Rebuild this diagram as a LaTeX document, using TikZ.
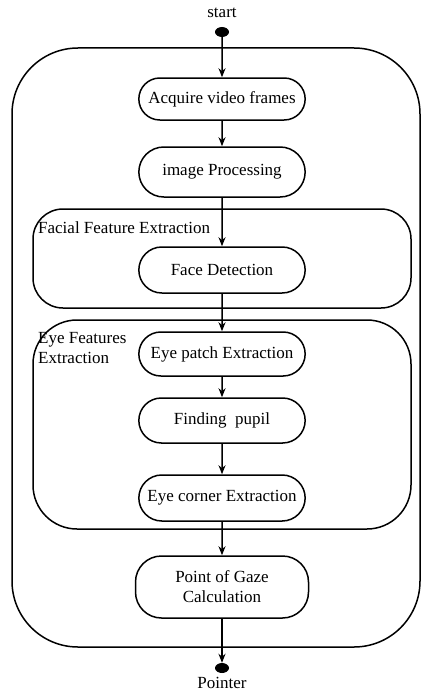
\documentclass[tikz,border=0pt]{standalone}
\usepackage{fontspec}
\setmainfont{Liberation Serif}
\usetikzlibrary{shapes.geometric,shapes.misc,arrows.meta}

\tikzset{
  proc/.style={draw, rounded rectangle, line width=1.5pt,
    minimum width=173pt, minimum height=44pt, align=center},
  group/.style={draw, line width=1.5pt},
  dot/.style={ellipse, fill=black, minimum width=14pt, minimum height=10pt, inner sep=0pt},
  flow/.style={line width=1.5pt, -{Stealth[length=9pt,width=7pt]}}
}

\begin{document}
\begin{tikzpicture}[x=1pt, y=-1pt, font=\fontsize{17}{20}\selectfont]
    \useasboundingbox (0,0) rectangle (421,693);
    % containers
    \node[group, rounded corners=66pt, minimum width=408pt, minimum height=599pt] (outer) at (216,347.5) {};
    \node[group, rounded corners=30pt, minimum width=378pt, minimum height=99pt] (facial) at (222,258.5) {};
    \node[group, rounded corners=44pt, minimum width=378pt, minimum height=209pt] (eyes) at (222,424.5) {};
    \node[anchor=west, inner sep=0pt] (faciallabel) at (38,228) {Facial Feature Extraction};
    \node[anchor=north west, inner sep=0pt, align=left] (eyeslabel) at (38,332) {Eye Features\\Extraction};

    % start and end
    \node (startlabel) at (222,13) {start};
    \node[dot] (start) at (222,32) {};
    \node[dot] (stop) at (222,668) {};
    \node[inner sep=0pt] (stoplabel) at (222,683) {Pointer};

    % steps
    \node[proc, minimum height=42pt] (acquire) at (222,99) {Acquire video frames};
    \node[proc, minimum height=50pt] (imgproc) at (222,172) {image Processing};
    \node[proc, minimum height=46pt] (face) at (222,270) {Face Detection};
    \node[proc] (patch) at (222,354) {Eye patch Extraction};
    \node[proc, minimum height=45pt] (pupil) at (222,420.5) {Finding \ pupil};
    \node[proc, minimum height=46pt] (corner) at (222,498) {Eye corner Extraction};
    \node[proc, rectangle, rounded corners=26pt, minimum height=62pt] (gaze) at (222,587) {Point of Gaze\\Calculation};

    % connectors
    \draw[flow] (start) -- (acquire);
    \draw[flow] (acquire) -- (imgproc);
    \draw[flow] (imgproc) -- (face);
    \draw[flow] (face) -- (patch);
    \draw[flow] (patch) -- (pupil);
    \draw[flow] (pupil) -- (corner);
    \draw[flow] (corner) -- (gaze);
    \draw[flow] (gaze) -- (stop);
\end{tikzpicture}
\end{document}
